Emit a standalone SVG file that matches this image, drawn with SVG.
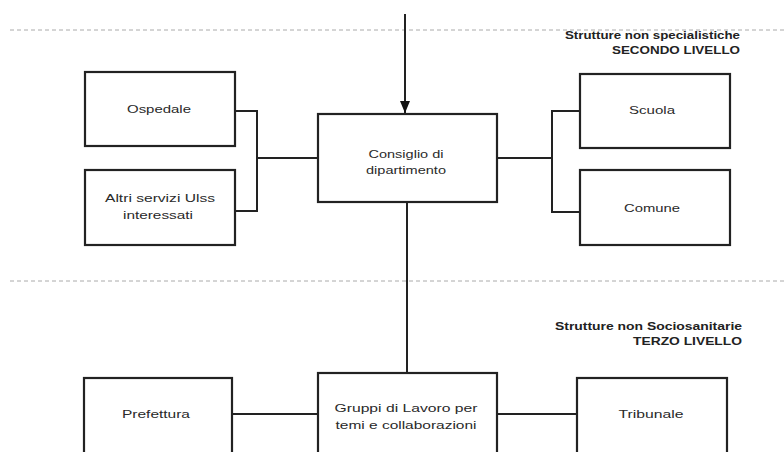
<svg xmlns="http://www.w3.org/2000/svg" width="784" height="452" viewBox="0 0 784 452">
<defs>
<style>
.box{fill:#fff;stroke:#222;stroke-width:2.2}
.lbl{font-family:"Liberation Sans",Arial,sans-serif;font-size:11px;fill:#2a2a2a;text-anchor:middle}
.hdr{font-family:"Liberation Sans",Arial,sans-serif;font-size:10px;font-weight:bold;fill:#222;text-anchor:end}
.dash{stroke:#aaa;stroke-width:1;stroke-dasharray:4 3;fill:none}
.con{stroke:#222;stroke-width:2;fill:none}
</style>
<marker id="arr" markerWidth="12" markerHeight="10" refX="12" refY="5" orient="auto" markerUnits="userSpaceOnUse" viewBox="0 0 12 10">
<path d="M0,0 L12,5 L0,10 Z" fill="#111"/>
</marker>
</defs>
<rect width="784" height="452" fill="#fff"/>
<line class="dash" x1="10" y1="30" x2="784" y2="30"/>
<line class="dash" x1="10" y1="281" x2="784" y2="281"/>
<text class="hdr" x="740" y="39" textLength="175" lengthAdjust="spacingAndGlyphs">Strutture non specialistiche</text>
<text class="hdr" x="740" y="54" textLength="128" lengthAdjust="spacingAndGlyphs">SECONDO LIVELLO</text>
<text class="hdr" x="742" y="330" textLength="187" lengthAdjust="spacingAndGlyphs">Strutture non Sociosanitarie</text>
<text class="hdr" x="742" y="345" textLength="109" lengthAdjust="spacingAndGlyphs">TERZO LIVELLO</text>
<g id="connectors">
<path class="con" d="M405,14 V113" marker-end="url(#arr)"/>
<path class="con" d="M235,111 H257 V211 H235"/>
<path class="con" d="M257,158 H318"/>
<path class="con" d="M497,158 H552"/>
<path class="con" d="M580,111 H552 V212 H580"/>
<path class="con" d="M407,202 V373"/>
<path class="con" d="M232,414 H318"/>
<path class="con" d="M497,414 H577"/>
</g>
<g id="ospedale"><rect class="box" x="85" y="72" width="150" height="74"/><text class="lbl" x="159" y="113" textLength="64" lengthAdjust="spacingAndGlyphs">Ospedale</text></g>
<g id="altri"><rect class="box" x="85" y="170" width="150" height="75"/><text class="lbl" x="160" y="202" textLength="110" lengthAdjust="spacingAndGlyphs">Altri servizi Ulss</text><text class="lbl" x="158" y="219" textLength="70" lengthAdjust="spacingAndGlyphs">interessati</text></g>
<g id="consiglio"><rect class="box" x="318" y="114" width="179" height="88"/><text class="lbl" x="406" y="158" textLength="75" lengthAdjust="spacingAndGlyphs">Consiglio di</text><text class="lbl" x="406" y="174" textLength="80" lengthAdjust="spacingAndGlyphs">dipartimento</text></g>
<g id="scuola"><rect class="box" x="580" y="74" width="150" height="74"/><text class="lbl" x="652" y="114" textLength="46" lengthAdjust="spacingAndGlyphs">Scuola</text></g>
<g id="comune"><rect class="box" x="580" y="170" width="150" height="75"/><text class="lbl" x="652" y="212" textLength="56" lengthAdjust="spacingAndGlyphs">Comune</text></g>
<g id="prefettura"><rect class="box" x="84" y="378" width="148" height="80"/><text class="lbl" x="156" y="418" textLength="68" lengthAdjust="spacingAndGlyphs">Prefettura</text></g>
<g id="gruppi"><rect class="box" x="318" y="373" width="179" height="85"/><text class="lbl" x="406" y="412" textLength="143" lengthAdjust="spacingAndGlyphs">Gruppi di Lavoro per</text><text class="lbl" x="406" y="429" textLength="141" lengthAdjust="spacingAndGlyphs">temi e collaborazioni</text></g>
<g id="tribunale"><rect class="box" x="577" y="378" width="150" height="80"/><text class="lbl" x="651" y="418" textLength="65" lengthAdjust="spacingAndGlyphs">Tribunale</text></g>
</svg>
